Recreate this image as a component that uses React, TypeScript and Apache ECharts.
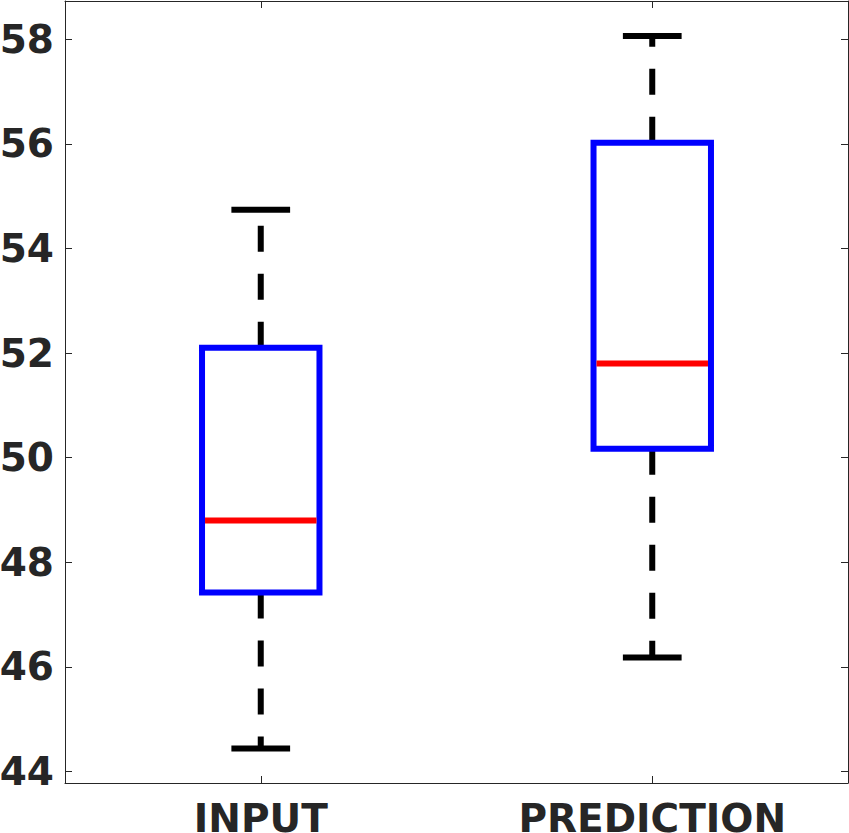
import React, { useEffect, useRef } from "react";
import * as echarts from "echarts";

const categories = ["INPUT", "PREDICTION"];
const lowerWhisker = [44.44, 46.18];
const q1 = [47.42, 50.17];
const median = [48.8, 51.8];
const q3 = [52.1, 56.02];
const upperWhisker = [54.74, 58.06];
const yTicks = [44, 46, 48, 50, 52, 54, 56, 58];

const Y_MIN = 43.78;
const Y_MAX = 58.73;

export default function App() {
  const ref = useRef<HTMLDivElement>(null);
  useEffect(() => {
    if (!ref.current) return;
    const chart = echarts.init(ref.current, undefined, { renderer: "svg" });
    const data = categories.map((_, i) => [i, lowerWhisker[i], q1[i], median[i], q3[i], upperWhisker[i]]);
    const axisColor = "#262626";
    const labelFont = { fontFamily: "DejaVu Sans", fontWeight: "bold" as const, fontSize: 39, color: axisColor };
    const renderItem = (params: any, api: any) => {
      const idx = api.value(0);
      const lo = api.coord([idx, api.value(1)]);
      const b1 = api.coord([idx, api.value(2)]);
      const md = api.coord([idx, api.value(3)]);
      const b3 = api.coord([idx, api.value(4)]);
      const hi = api.coord([idx, api.value(5)]);
      const band = api.size([1, 0])[0];
      const bw = band * 0.3;
      const cw = bw / 2;
      const cx = lo[0];
      const whiskerStyle = { stroke: "#000000", lineWidth: 6, lineDash: [26, 22], fill: "none" };
      const capStyle = { stroke: "#000000", lineWidth: 6, fill: "none" };
      return {
        type: "group",
        children: [
          { type: "line", shape: { x1: cx, y1: b3[1], x2: cx, y2: hi[1] }, style: whiskerStyle },
          { type: "line", shape: { x1: cx, y1: b1[1], x2: cx, y2: lo[1] }, style: whiskerStyle },
          { type: "line", shape: { x1: cx - cw / 2, y1: hi[1], x2: cx + cw / 2, y2: hi[1] }, style: capStyle },
          { type: "line", shape: { x1: cx - cw / 2, y1: lo[1], x2: cx + cw / 2, y2: lo[1] }, style: capStyle },
          {
            type: "rect",
            shape: { x: cx - bw / 2, y: b3[1], width: bw, height: b1[1] - b3[1] },
            style: { stroke: "#0000ff", lineWidth: 6, fill: "none" },
          },
          {
            type: "line",
            shape: { x1: cx - bw / 2 + 3, y1: md[1], x2: cx + bw / 2 - 3, y2: md[1] },
            style: { stroke: "#ff0000", lineWidth: 6 },
          },
        ],
      };
    };
    chart.setOption({
      animation: false,
      backgroundColor: "#ffffff",
      grid: { left: 65, right: 1, top: 1, bottom: 50, containLabel: false, outerBoundsMode: "none" },
      xAxis: [
        {
          type: "category",
          data: categories,
          boundaryGap: true,
          axisLine: { show: true, lineStyle: { color: axisColor, width: 1 } },
          axisTick: { show: true, inside: true, alignWithLabel: true, length: 7, lineStyle: { color: axisColor } },
          axisLabel: { ...labelFont, margin: 16 },
          splitLine: { show: false },
        },
        {
          type: "category",
          data: categories,
          position: "top",
          boundaryGap: true,
          axisLine: { show: true, lineStyle: { color: axisColor, width: 1 } },
          axisTick: { show: true, inside: true, alignWithLabel: true, length: 7, lineStyle: { color: axisColor } },
          axisLabel: { show: false },
          splitLine: { show: false },
        },
      ],
      yAxis: [
        {
          type: "value",
          min: Y_MIN,
          max: Y_MAX,
          axisLine: { show: true, lineStyle: { color: axisColor, width: 1 } },
          axisTick: { show: true, inside: true, length: 7, customValues: yTicks, lineStyle: { color: axisColor } },
          axisLabel: { ...labelFont, margin: 11, customValues: yTicks },
          splitLine: { show: false },
        },
        {
          type: "value",
          min: Y_MIN,
          max: Y_MAX,
          position: "right",
          axisLine: { show: true, lineStyle: { color: axisColor, width: 1 } },
          axisTick: { show: true, inside: true, length: 7, customValues: yTicks, lineStyle: { color: axisColor } },
          axisLabel: { show: false },
          splitLine: { show: false },
        },
      ],
      series: [
        {
          type: "custom",
          xAxisIndex: 0,
          yAxisIndex: 0,
          renderItem,
          encode: { x: 0, y: [1, 2, 3, 4, 5] },
          data,
          clip: false,
        },
      ],
    });
    return () => chart.dispose();
  }, []);
  return <div ref={ref} style={{ position: "absolute", left: 0, top: 0, width: 849, height: 833 }} />;
}
